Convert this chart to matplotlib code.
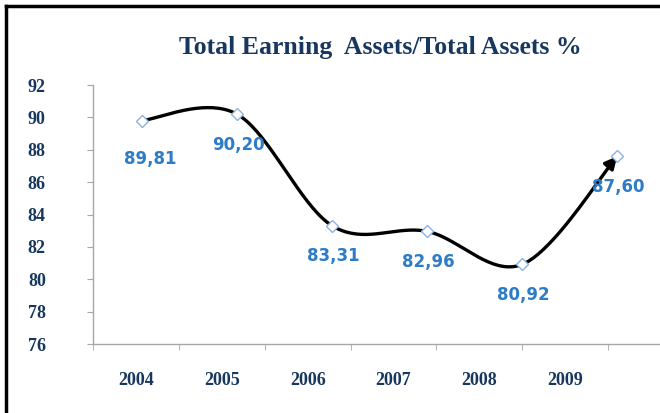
import matplotlib.pyplot as plt
import matplotlib as mpl
import numpy as np
from matplotlib.patches import FancyArrowPatch
from matplotlib.path import Path
from matplotlib.lines import Line2D

years = ['2004', '2005', '2006', '2007', '2008', '2009']
values = [89.81, 90.20, 83.31, 82.96, 80.92, 87.60]
value_labels = ['89,81', '90,20', '83,31', '82,96', '80,92', '87,60']

navy = '#17375E'
blue_lbl = '#2E7CC6'
grey = '#A6A6A6'


def smooth(xs, ys, n=40):
    # catmull-rom style smoothing like the excel "smoothed line"
    xs = np.asarray(xs, float)
    ys = np.asarray(ys, float)
    px = np.concatenate([[xs[0]], xs, [xs[-1]]])
    py = np.concatenate([[ys[0]], ys, [ys[-1]]])
    out_x, out_y = [], []
    for i in range(1, len(px) - 2):
        t = np.linspace(0, 1, n)
        mx0 = (px[i + 1] - px[i - 1]) / 2
        mx1 = (px[i + 2] - px[i]) / 2
        my0 = (py[i + 1] - py[i - 1]) / 2
        my1 = (py[i + 2] - py[i]) / 2
        h00 = 2 * t**3 - 3 * t**2 + 1
        h10 = t**3 - 2 * t**2 + t
        h01 = -2 * t**3 + 3 * t**2
        h11 = t**3 - t**2
        out_x.extend(h00 * px[i] + h10 * mx0 + h01 * px[i + 1] + h11 * mx1)
        out_y.extend(h00 * py[i] + h10 * my0 + h01 * py[i + 1] + h11 * my1)
    return np.array(out_x), np.array(out_y)


fig = plt.figure(figsize=(6.6, 4.13), dpi=100)
ax = fig.add_axes([0.141, 0.167, 0.859, 0.627])

x = np.arange(len(years))
sx, sy = smooth(x, values)
path = Path(np.column_stack([sx, sy]))
arrow = FancyArrowPatch(path=path, arrowstyle='-|>', mutation_scale=18,
                        lw=2.4, color='black', shrinkA=0, shrinkB=3,
                        transform=ax.transData, zorder=2)
ax.add_patch(arrow)
ax.plot(x, values, linestyle='none', marker='D', markersize=6.5,
        markerfacecolor='white', markeredgecolor='#8DB3E2',
        markeredgewidth=1.0, zorder=3)

for i, (xi, v, s) in enumerate(zip(x, values, value_labels)):
    dx = 6 if i == 0 else 1
    dy = -28 if i == 0 else -22
    ax.annotate(s, (xi, v), xytext=(dx, dy), textcoords='offset points',
                ha='center', va='center', color=blue_lbl, fontsize=12,
                fontweight='bold', family='DejaVu Sans', zorder=4)

ax.set_xlim(-0.504, 5.45)
ax.set_ylim(76, 92)
ax.set_yticks(np.arange(76, 93, 2))
ax.set_yticklabels([str(v) for v in range(76, 93, 2)],
                   family='Liberation Serif', fontweight='bold',
                   fontsize=13, color=navy)

step = 0.903
ax.set_xticks([-0.063 + step * i for i in range(len(years))])
ax.set_xticklabels(years, family='Liberation Serif', fontweight='bold',
                   fontsize=13, color=navy)
ax.set_xticks([-0.515 + step * i for i in range(len(years) + 1)], minor=True)
ax.tick_params(axis='x', which='major', length=0, pad=20)
ax.tick_params(axis='x', which='minor', length=4, color=grey, direction='out')
ax.tick_params(axis='y', length=4, color=grey, pad=30, direction='out')

for s in ['top', 'right']:
    ax.spines[s].set_visible(False)
for s in ['left', 'bottom']:
    ax.spines[s].set_color(grey)
    ax.spines[s].set_linewidth(1.0)

fig.text(0.576, 0.884, 'Total Earning  Assets/Total Assets %',
         ha='center', va='center', family='Liberation Serif',
         fontweight='bold', fontsize=18.5, color=navy)

# black frame on top and left
fig.add_artist(Line2D([0.009, 1.0], [0.985, 0.985], color='black', lw=2.5,
                      transform=fig.transFigure))
fig.add_artist(Line2D([0.009, 0.009], [0.0, 0.985], color='black', lw=2.5,
                      transform=fig.transFigure))

plt.savefig('out.png', dpi=100)
plt.close(fig)
